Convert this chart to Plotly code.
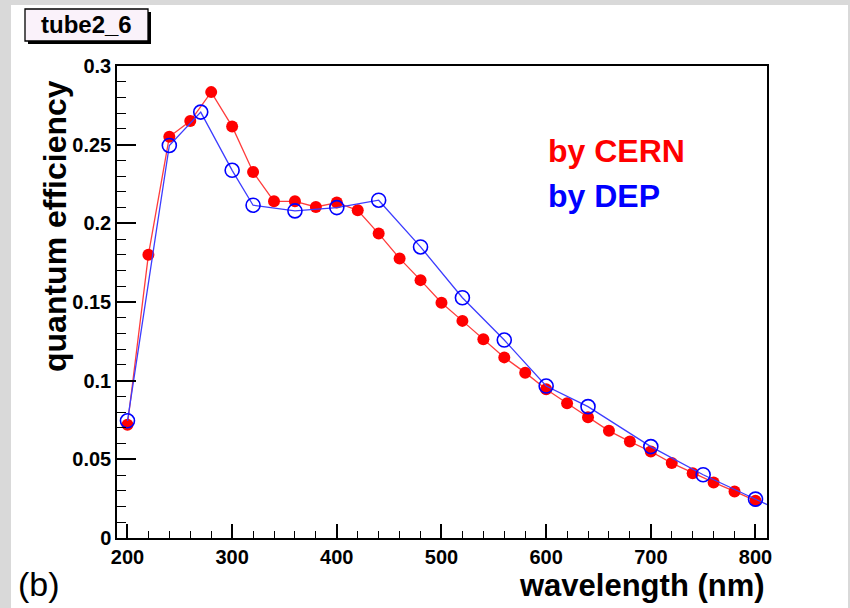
import plotly.graph_objects as go

# ---- data ----
cern_wl = [200, 220, 240, 260, 280, 300, 320, 340, 360, 380, 400, 420, 440, 460, 480, 500,
           520, 540, 560, 580, 600, 620, 640, 660, 680, 700, 720, 740, 760, 780, 800]
cern_qe = [0.072, 0.180, 0.255, 0.265, 0.2834, 0.2616, 0.2326, 0.214, 0.214, 0.2104, 0.2132,
           0.2083, 0.1935, 0.1777, 0.1639, 0.1495, 0.138, 0.1263, 0.1148, 0.1051, 0.0945,
           0.0857, 0.0768, 0.0681, 0.0613, 0.055, 0.0476, 0.0412, 0.0353, 0.0296, 0.0237]

dep_wl = [200, 240, 270, 300, 320, 360, 400, 440, 480, 520, 560, 600, 640, 700, 750, 800, 850]
dep_qe = [0.0745, 0.2495, 0.2707, 0.2337, 0.2115, 0.2079, 0.210, 0.2147, 0.185, 0.1527,
          0.1258, 0.0966, 0.0835, 0.0581, 0.0402, 0.0247, 0.0092]

x_ticks = [200, 300, 400, 500, 600, 700, 800]
y_ticks = [0, 0.05, 0.1, 0.15, 0.2, 0.25, 0.3]

W, H = 850, 608
L, R, T, B = 117, 767, 66, 538  # plot-area edges in px


def px(xp):
    return (xp - L) / (R - L)


def py(yp):
    return (B - yp) / (B - T)


fig = go.Figure()

fig.add_trace(go.Scatter(
    x=cern_wl, y=cern_qe, mode="lines+markers", name="by CERN",
    line=dict(color="#ff3c3c", width=1.3),
    marker=dict(symbol="circle", size=12, color="#ff0000", line=dict(width=0)),
    cliponaxis=True,
))
fig.add_trace(go.Scatter(
    x=dep_wl, y=dep_qe, mode="lines+markers", name="by DEP",
    line=dict(color="#3c3cff", width=1.3),
    marker=dict(symbol="circle-open", size=14, color="#0000ff", line=dict(width=1.6)),
    cliponaxis=True,
))

font_b = "Liberation Sans, Arial, Helvetica, sans-serif"

axis_common = dict(
    showline=True, linecolor="black", linewidth=1.5, mirror=True,
    showgrid=False, zeroline=False, ticks="inside", tickcolor="black",
    automargin=False,
    tickfont=dict(family=font_b, size=20, color="black", weight="bold"),
)

fig.update_layout(
    width=W, height=H,
    margin=dict(l=L, r=W - R, t=T, b=H - B, autoexpand=False),
    paper_bgcolor="#d9d9d9",
    plot_bgcolor="white",
    showlegend=False,
    xaxis=dict(range=[190, 811], tickvals=x_ticks, ticklen=14, tickwidth=1.5,
               minor=dict(ticks="inside", dtick=20, tick0=200, ticklen=7.5,
                          tickcolor="black", tickwidth=1.3),
               **axis_common),
    yaxis=dict(range=[0, 0.3], tickvals=y_ticks, ticklen=19, tickwidth=1.5,
               minor=dict(ticks="inside", dtick=0.01, tick0=0, ticklen=9.5,
                          tickcolor="black", tickwidth=1.3),
               **axis_common),
)

shapes = [
    # white canvas over the grey backdrop
    dict(type="rect", xref="paper", yref="paper", layer="below",
         x0=px(11), x1=px(848), y0=py(608), y1=py(5),
         fillcolor="white", line=dict(width=0)),
    # title box shadow
    dict(type="rect", xref="paper", yref="paper",
         x0=px(28), x1=px(151), y0=py(44), y1=py(12),
         fillcolor="black", line=dict(width=0)),
    # title box
    dict(type="rect", xref="paper", yref="paper",
         x0=px(25), x1=px(148), y0=py(41), y1=py(9),
         fillcolor="#faf2fa", line=dict(color="black", width=1.3)),
]
fig.update_layout(shapes=shapes)

annotations = [
    dict(text="tube2_6", x=px(86.5), y=py(25), xref="paper", yref="paper",
         showarrow=False, xanchor="center", yanchor="middle",
         font=dict(family=font_b, size=24, color="black", weight="bold")),
    dict(text="quantum efficiency", x=px(55), y=py(226), xref="paper", yref="paper",
         textangle=-90, showarrow=False, xanchor="center", yanchor="middle",
         font=dict(family=font_b, size=32, color="black", weight="bold")),
    dict(text="wavelength (nm)", x=px(767), y=py(585), xref="paper", yref="paper",
         showarrow=False, xanchor="right", yanchor="middle",
         font=dict(family=font_b, size=31, color="black", weight="bold")),
    dict(text="(b)", x=px(16), y=py(584), xref="paper", yref="paper",
         showarrow=False, xanchor="left", yanchor="middle",
         font=dict(family=font_b, size=34, color="black")),
    dict(text="by CERN", x=px(546), y=py(151), xref="paper", yref="paper",
         showarrow=False, xanchor="left", yanchor="middle",
         font=dict(family=font_b, size=32, color="#ff0000", weight="bold")),
    dict(text="by DEP", x=px(546), y=py(196), xref="paper", yref="paper",
         showarrow=False, xanchor="left", yanchor="middle",
         font=dict(family=font_b, size=32, color="#0000ff", weight="bold")),
]
fig.update_layout(annotations=annotations)

fig.write_html(
    "out.html",
    config={"displayModeBar": False},
    post_script="document.body.style.margin='0';document.body.style.padding='0';"
                "document.body.style.overflow='hidden';"
                "document.body.style.background='#d9d9d9';",
)
